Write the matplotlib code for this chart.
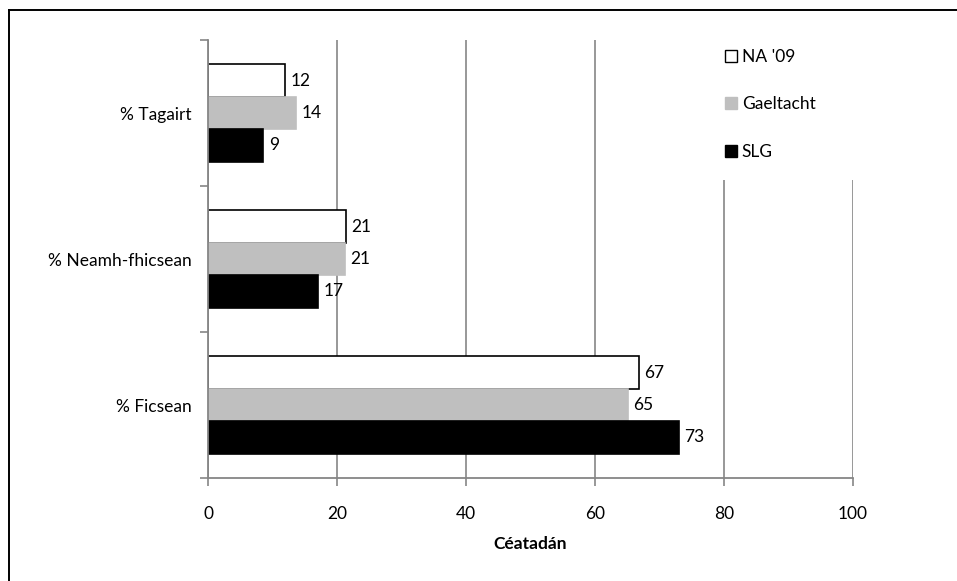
import numpy as np
import matplotlib
matplotlib.use("Agg")
import matplotlib.pyplot as plt
from matplotlib.lines import Line2D
from matplotlib.patches import Rectangle

plt.rcParams["font.family"] = ["Lato", "DejaVu Sans"]

# data
categories = ["% Tagairt", "% Neamh-fhicsean", "% Ficsean"]
series_names = ["NA '09", "Gaeltacht", "SLG"]
na09 = [12.0, 21.4, 66.8]
gaeltacht = [13.7, 21.2, 65.1]
slg = [8.6, 17.1, 73.0]
x_ticks = [0, 20, 40, 60, 80, 100]

face_cols = ["white", "#bfbfbf", "black"]
edge_cols = ["black", "#bfbfbf", "black"]
grid_col = "#868686"
fs = 12.5

fig = plt.figure(figsize=(9.57, 5.81), dpi=100)
ax = fig.add_axes([208 / 957, 1 - 478 / 581, 645 / 957, 438 / 581])

y = np.arange(len(categories))
h = 1 / 4.5
series = [na09, gaeltacht, slg]
for i, vals in enumerate(series):
    bars = ax.barh(y - h + i * h, vals, height=h, color=face_cols[i],
                   edgecolor=edge_cols[i], linewidth=1.2, zorder=3,
                   label=series_names[i])
    ax.bar_label(bars, fmt="%.0f", padding=4, fontsize=fs)

ax.set_xlim(0, 100)
ax.set_ylim(2.5, -0.5)
ax.set_xticks(x_ticks)
ax.set_yticks(y)
ax.set_yticklabels(categories, fontsize=fs)
ax.set_yticks([-0.5, 0.5, 1.5, 2.5], minor=True)
ax.tick_params(axis="y", which="major", length=0, pad=12)
ax.tick_params(axis="y", which="minor", length=6, width=1.2, color=grid_col, direction="out")
ax.tick_params(axis="x", length=6, width=1.2, color=grid_col, labelsize=fs, pad=14)
ax.xaxis.grid(True, color=grid_col, linewidth=1.2, zorder=0)
ax.set_axisbelow(True)
for s in ["top", "right"]:
    ax.spines[s].set_visible(False)
for s in ["left", "bottom"]:
    ax.spines[s].set_color(grid_col)
    ax.spines[s].set_linewidth(1.3)
ax.spines["left"].set_zorder(4)

ax.set_xlabel("Céatadán", fontsize=fs, fontweight="bold", labelpad=10)

# white legend area covering grid lines
ax.add_patch(Rectangle((0.79, 0.68), 0.22, 0.33, transform=ax.transAxes,
                       facecolor="white", edgecolor="none", zorder=2, clip_on=False))
handles = [Line2D([], [], marker="s", linestyle="none", markersize=9,
                  markerfacecolor=face_cols[i], markeredgecolor=edge_cols[i],
                  markeredgewidth=1.0) for i in range(3)]
ax.legend(handles, series_names, loc="upper left", bbox_to_anchor=(0.79, 0.995),
          frameon=False, fontsize=fs, handlelength=0.8, handletextpad=0.2,
          labelspacing=1.8, borderaxespad=0)

# outer chart frame (top and left edges visible)
fig.add_artist(Line2D([9 / 957, 9 / 957], [0, 1 - 10 / 581], color="black", linewidth=1.4))
fig.add_artist(Line2D([9 / 957, 1], [1 - 10 / 581, 1 - 10 / 581], color="black", linewidth=1.4))

fig.savefig("out.png", dpi=100)
